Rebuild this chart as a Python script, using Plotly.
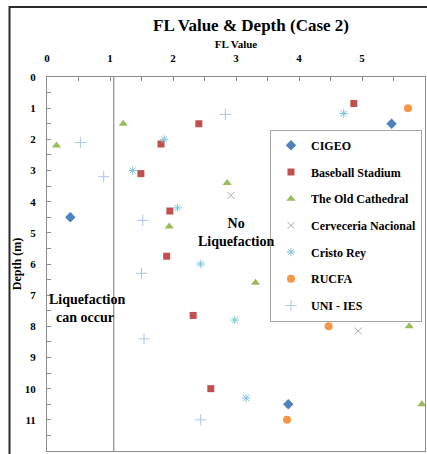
import plotly.graph_objects as go

# ---- data (FL value, depth in m) ----
cigeo_fl = [5.47, 0.37, 3.83]
cigeo_depth = [1.5, 4.5, 10.5]

baseball_fl = [4.87, 2.41, 1.81, 1.49, 1.95, 1.90, 2.32, 2.60]
baseball_depth = [0.85, 1.5, 2.15, 3.1, 4.3, 5.75, 7.65, 10.0]

cathedral_fl = [1.21, 0.15, 2.86, 1.94, 3.31, 5.75, 5.95]
cathedral_depth = [1.5, 2.2, 3.4, 4.8, 6.6, 8.0, 10.5]

cerveceria_fl = [2.92, 4.94]
cerveceria_depth = [3.8, 8.15]

cristo_fl = [4.71, 1.86, 1.36, 2.07, 2.44, 2.98, 3.16]
cristo_depth = [1.17, 2.0, 3.0, 4.2, 6.0, 7.8, 10.3]

rucfa_fl = [5.73, 3.78, 4.47, 3.81]
rucfa_depth = [1.0, 5.7, 8.0, 11.0]

uni_fl = [2.83, 0.53, 0.90, 1.52, 1.50, 1.54, 2.44]
uni_depth = [1.2, 2.1, 3.2, 4.6, 6.3, 8.4, 11.0]

x_ticks = [0, 1, 2, 3, 4, 5, 6]
y_ticks = list(range(0, 13))
fl_limit = 1.06

SERIF = "Liberation Serif"

fig = go.Figure()

def add(name, xs, ys, symbol, color, size, line_color=None, line_width=0):
    fig.add_trace(go.Scatter(
        x=xs, y=ys, mode="markers", name=name, legendgroup=name,
        marker=dict(symbol=symbol, color=color, size=size,
                    line=dict(color=line_color or color, width=line_width)),
    ))

add("CIGEO", cigeo_fl, cigeo_depth, "diamond", "#4F81BD", 8)
add("Baseball Stadium", baseball_fl, baseball_depth, "square", "#C0504D", 7)
add("The Old Cathedral", cathedral_fl, cathedral_depth, "triangle-up", "#9BBB59", 8)
add("Cerveceria Nacional", cerveceria_fl, cerveceria_depth, "x-thin-open", "#B3A2C7", 7, "#B3A2C7", 1)
add("Cristo Rey", cristo_fl, cristo_depth, "asterisk-open", "#7FC4D8", 7, "#7FC4D8", 1)
add("RUCFA", rucfa_fl, rucfa_depth, "circle", "#F79646", 8)
add("UNI - IES", uni_fl, uni_depth, "cross-thin-open", "#A9C4EB", 8, "#A9C4EB", 1)

fig.add_shape(type="line", x0=fl_limit, x1=fl_limit, y0=0, y1=12,
              xref="x", yref="y", line=dict(color="#8C8C8C", width=1.2))

# outer chart border (left and top edges visible)
fig.add_shape(type="rect", xref="paper", yref="paper",
              x0=(9.5 - 47) / 378, x1=1.1, y0=-0.1, y1=1 + (77.3 - 7.5) / 373.4,
              line=dict(color="#2b2b2b", width=2), layer="above")

fig.add_annotation(x=3.0, y=5.0, xref="x", yref="y",
                   text="No<br>Liquefaction", showarrow=False,
                   font=dict(family=SERIF, size=14, color="black", weight="bold"))
fig.add_annotation(x=0.0, y=7.42, xref="x", yref="y", xanchor="left",
                   text="Liquefaction<br>  can occur", showarrow=False, align="left",
                   font=dict(family=SERIF, size=14, color="black", weight="bold"))

axis_common = dict(
    showgrid=False, zeroline=False, showline=True, linecolor="#8C8C8C",
    linewidth=1, mirror=True, ticks="inside", ticklen=4, tickcolor="#8C8C8C",
    automargin=False,
    tickfont=dict(family=SERIF, size=11, color="black", weight="bold"),
)

fig.update_layout(
    width=427, height=454,
    margin=dict(l=47, r=2, t=77, b=3),
    paper_bgcolor="white", plot_bgcolor="white",
    title=dict(text="FL Value & Depth (Case 2)", x=251/427, xref="container",
               xanchor="center", y=1-25/454, yref="container", yanchor="middle",
               font=dict(family=SERIF, size=17, color="black", weight="bold")),
    xaxis=dict(range=[0, 6], side="top", tickvals=x_ticks,
               minor=dict(dtick=0.5, ticks="inside", ticklen=4, tickcolor="#8C8C8C"),
               ticklabelstandoff=10,
               title=dict(text="FL Value", standoff=0,
                          font=dict(family=SERIF, size=11, color="black", weight="bold")),
               **axis_common),
    yaxis=dict(range=[12, 0], tickvals=y_ticks,
               minor=dict(dtick=0.5, ticks="inside", ticklen=4, tickcolor="#8C8C8C"),
               ticklabelstandoff=8,
               title=dict(text="Depth (m)", standoff=0,
                          font=dict(family=SERIF, size=12, color="black", weight="bold")),
               **axis_common),
    showlegend=True,
    legend=dict(x=(270-47)/378, y=(450.7-130)/373.4, xanchor="left", yanchor="top",
                bordercolor="#A6A6A6", borderwidth=1, bgcolor="white",
                tracegroupgap=7.7, itemwidth=30,
                font=dict(family=SERIF, size=12, color="black", weight="bold")),
)

fig.write_html("out.html", config={"displayModeBar": False},
               post_script="document.body.style.margin='0';document.body.style.overflow='hidden';")
